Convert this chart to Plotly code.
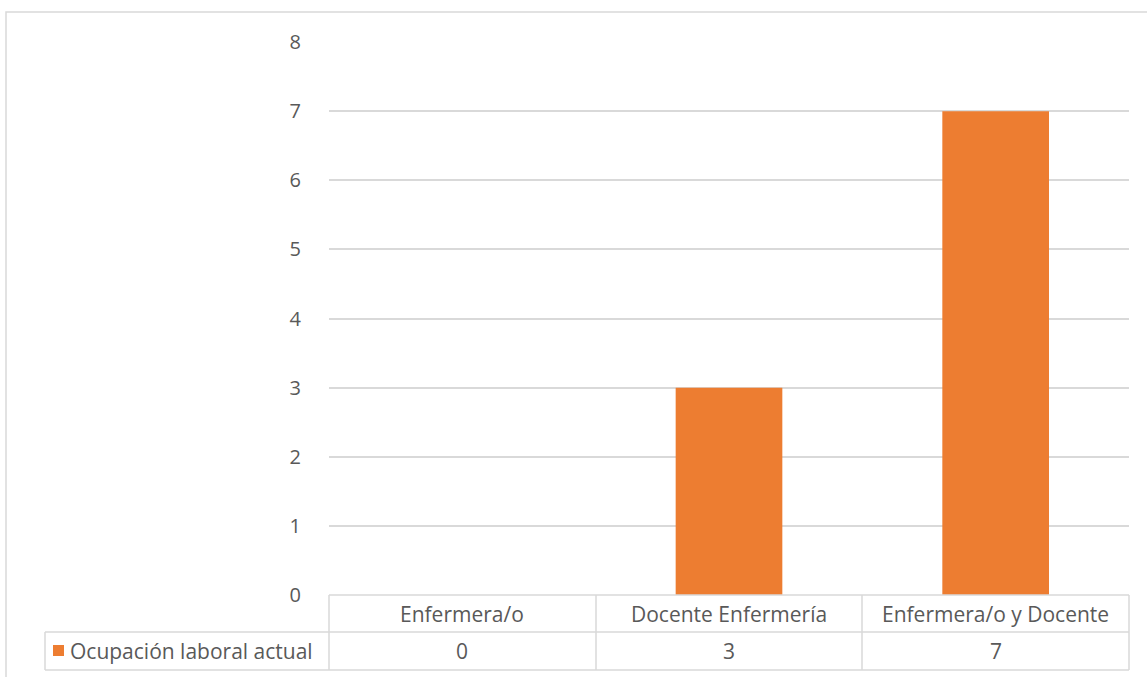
import plotly.graph_objects as go

categories = ["Enfermera/o", "Docente Enfermería", "Enfermera/o y Docente"]
values = [0, 3, 7]
series_name = "Ocupación laboral actual"
y_ticks = [0, 1, 2, 3, 4, 5, 6, 7, 8]

W, H = 1147, 677
L, R, T, B = 329, 1129, 42, 595  # plot area in px
FONT = "Open Sans"
FS = 21
TXT = "#595959"
GRID = "#d9d9d9"
ORANGE = "#ED7D31"


def px_x(px):
    return (px - L) / (R - L)


def px_y(py):
    return (B - py) / (B - T)


fig = go.Figure()
fig.add_trace(go.Bar(x=categories, y=values, marker=dict(color=ORANGE, line=dict(width=0)),
                     name=series_name, showlegend=False))

shapes = []
# outer chart border
shapes.append(dict(type="rect", xref="paper", yref="paper",
                   x0=px_x(6), x1=px_x(1160), y0=px_y(690), y1=px_y(12),
                   line=dict(color=GRID, width=1.5), fillcolor="rgba(0,0,0,0)", layer="below"))
# table lines
line = dict(color=GRID, width=1.5)
for py, x0 in [(595, 329), (632, 45), (670, 45)]:
    shapes.append(dict(type="line", xref="paper", yref="paper",
                       x0=px_x(x0), x1=px_x(1129), y0=px_y(py), y1=px_y(py), line=line))
for px in [329, 596, 862, 1129]:
    shapes.append(dict(type="line", xref="paper", yref="paper",
                       x0=px_x(px), x1=px_x(px), y0=px_y(595), y1=px_y(670), line=line))
shapes.append(dict(type="line", xref="paper", yref="paper",
                   x0=px_x(45), x1=px_x(45), y0=px_y(632), y1=px_y(670), line=line))
# legend key
shapes.append(dict(type="rect", xref="paper", yref="paper",
                   x0=px_x(53), x1=px_x(64), y0=px_y(656), y1=px_y(645),
                   line=dict(width=0), fillcolor=ORANGE))

annotations = []
for c, v in zip(categories, values):
    annotations.append(dict(x=c, xref="x", y=px_y(614), yref="paper", text=c, showarrow=False,
                            font=dict(family=FONT, size=FS, color=TXT), xanchor="center", yanchor="middle"))
    annotations.append(dict(x=c, xref="x", y=px_y(651), yref="paper", text=str(v), showarrow=False,
                            font=dict(family=FONT, size=FS, color=TXT), xanchor="center", yanchor="middle"))
annotations.append(dict(x=px_x(68), xref="paper", y=px_y(651), yref="paper", text=series_name,
                        showarrow=False, font=dict(family=FONT, size=FS, color=TXT),
                        xanchor="left", yanchor="middle"))

fig.update_layout(
    width=W, height=H,
    margin=dict(l=L, r=W - R, t=T, b=H - B, pad=0),
    paper_bgcolor="white", plot_bgcolor="white",
    bargap=0.6,
    shapes=shapes, annotations=annotations,
    xaxis=dict(showticklabels=False, showgrid=False, zeroline=False, showline=False, ticks=""),
    yaxis=dict(range=[0, 8], tickvals=y_ticks, showgrid=True, gridcolor=GRID, gridwidth=1.5,
               zeroline=False, showline=False, ticks="outside", ticklen=23, tickcolor="rgba(0,0,0,0)",
               tickfont=dict(family=FONT, size=FS - 1, color=TXT)),
    font=dict(family=FONT),
)

fig.write_html("out.html", config={"displayModeBar": False},
               post_script="document.body.style.margin='0';")
